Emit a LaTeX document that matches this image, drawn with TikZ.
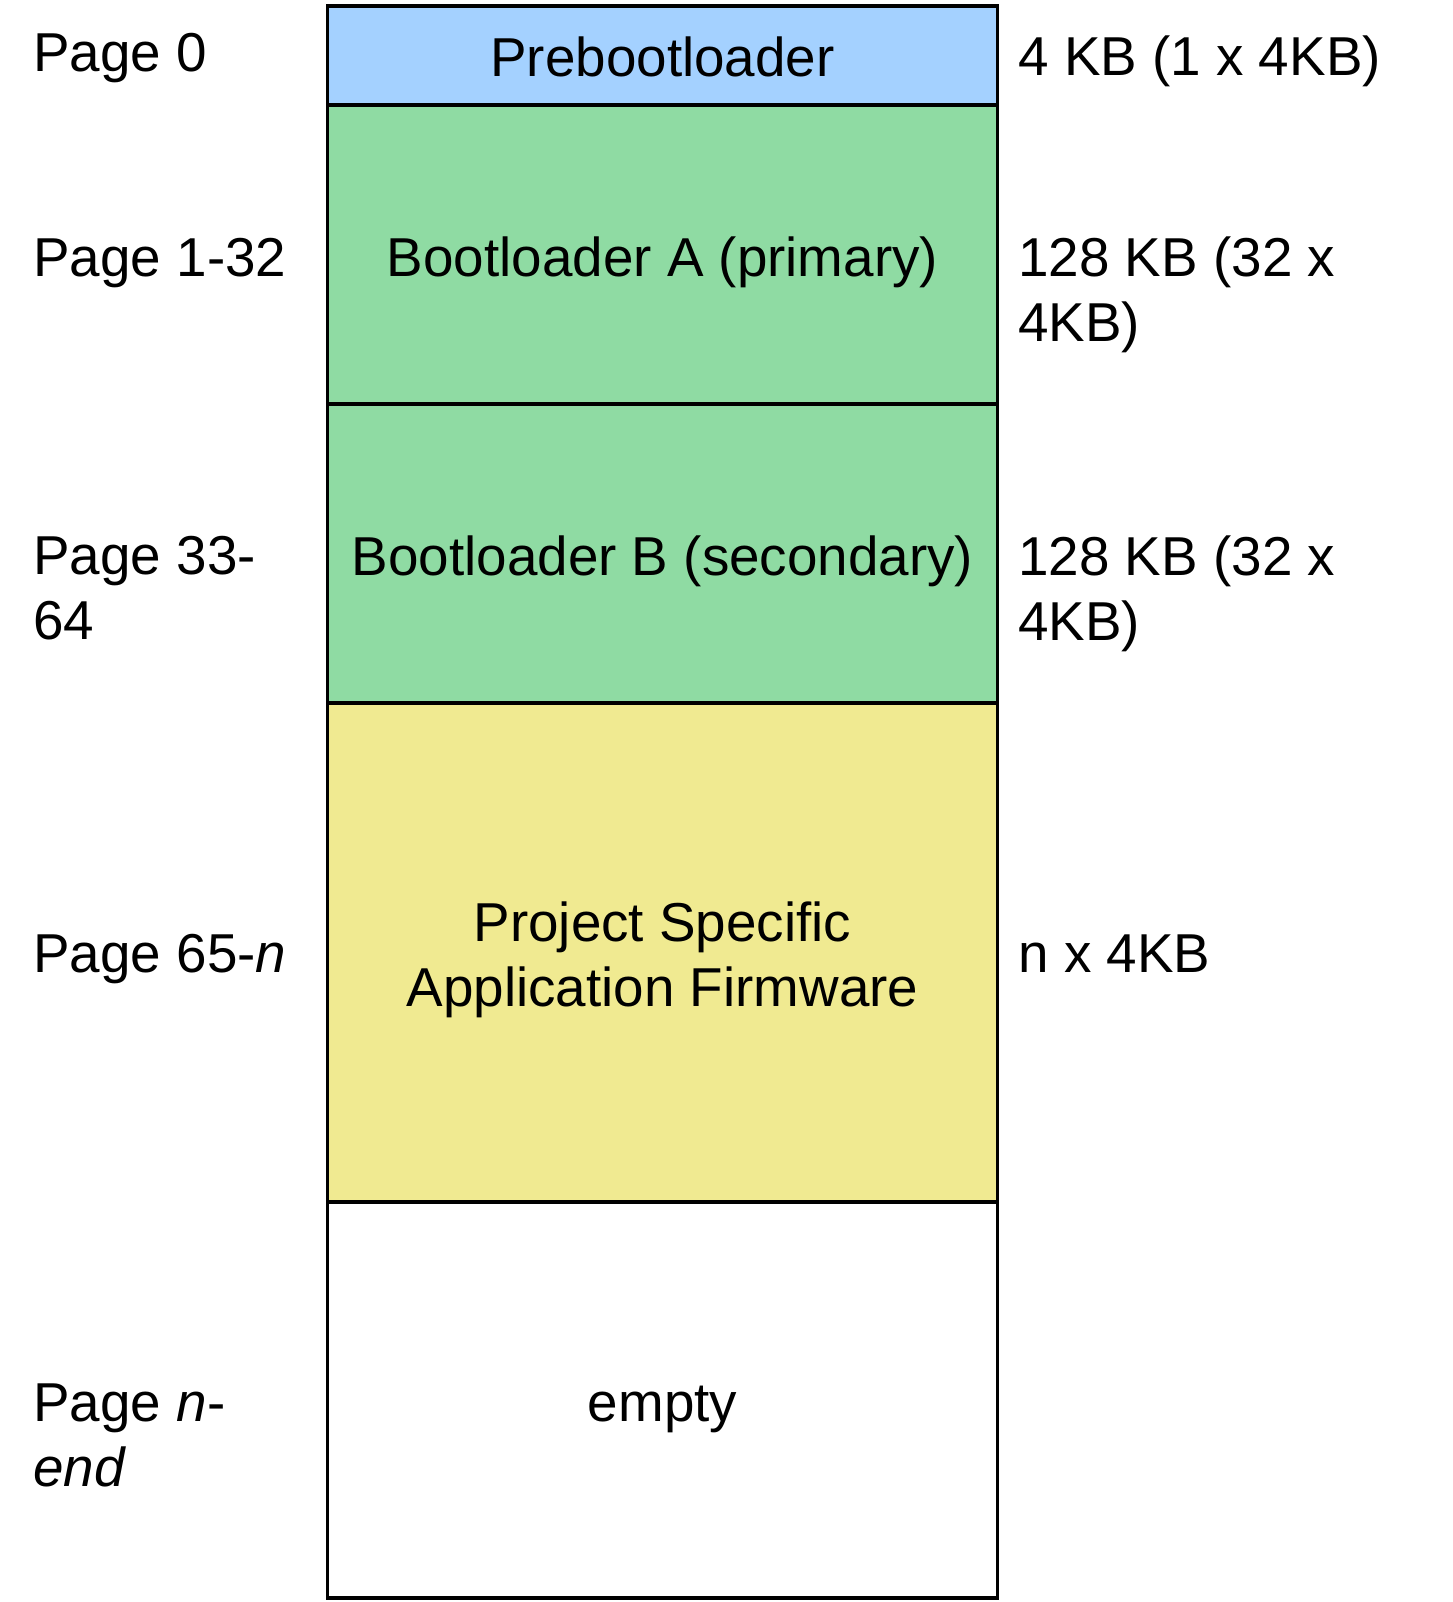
\documentclass[tikz,border=0pt]{standalone}
\usepackage{fontspec}
\setmainfont{Liberation Sans}
\usepackage{xcolor}
\definecolor{preblue}{HTML}{A4D1FF}
\definecolor{bootgreen}{HTML}{8FDBA3}
\definecolor{appyellow}{HTML}{F0EA91}

\begin{document}
\begin{tikzpicture}[x=0.5pt,y=-0.5pt,
  region/.style={draw=black,line width=1.75pt},
  lbl/.style={inner sep=0pt,align=left,font=\fontsize{27.4}{32.5}\selectfont},
  txt/.style={inner sep=0pt,align=center,font=\fontsize{27.4}{32.5}\selectfont}]
\useasboundingbox (0,0) rectangle (1452,1602);
\filldraw[region,fill=white] (327.5,1202)--(997.5,1202)--(997.5,1598)--(327.5,1598)--cycle;
\filldraw[region,fill=appyellow] (327.5,703) rectangle (997.5,1202);
\filldraw[region,fill=bootgreen] (327.5,404) rectangle (997.5,703);
\filldraw[region,fill=bootgreen] (327.5,105) rectangle (997.5,404);
\filldraw[region,fill=preblue] (327.5,6) rectangle (997.5,105);
\node[txt,anchor=base] (pre) at (662.5,76) {Prebootloader};
\node[txt,anchor=base] (blA) at (662.5,276) {Bootloader A (primary)};
\node[txt,anchor=base] (blB) at (662.5,575) {Bootloader B (secondary)};
\node[txt] (app) at (662.5,960) {Project Specific\\Application Firmware};
\node[txt,anchor=base] (empty) at (662.5,1421) {empty};
\node[lbl,anchor=base west] (pg0) at (33,71) {Page 0};
\node[lbl,anchor=base west] (pg1) at (33,276) {Page 1-32};
\node[lbl,anchor=north west] (pg33) at (33,536) {Page 33-\\64};
\node[lbl,anchor=base west] (pg65) at (33,972) {Page 65-\textit{n}};
\node[lbl,anchor=north west] (pgn) at (33,1383) {Page \textit{n}-\\\textit{end}};
\node[lbl,anchor=base west] (sz0) at (1018,75) {4 KB (1 x 4KB)};
\node[lbl,anchor=north west] (szA) at (1018,236) {128 KB (32 x\\4KB)};
\node[lbl,anchor=north west] (szB) at (1018,535) {128 KB (32 x\\4KB)};
\node[lbl,anchor=base west] (szapp) at (1018,972) {n x 4KB};
\end{tikzpicture}
\end{document}
